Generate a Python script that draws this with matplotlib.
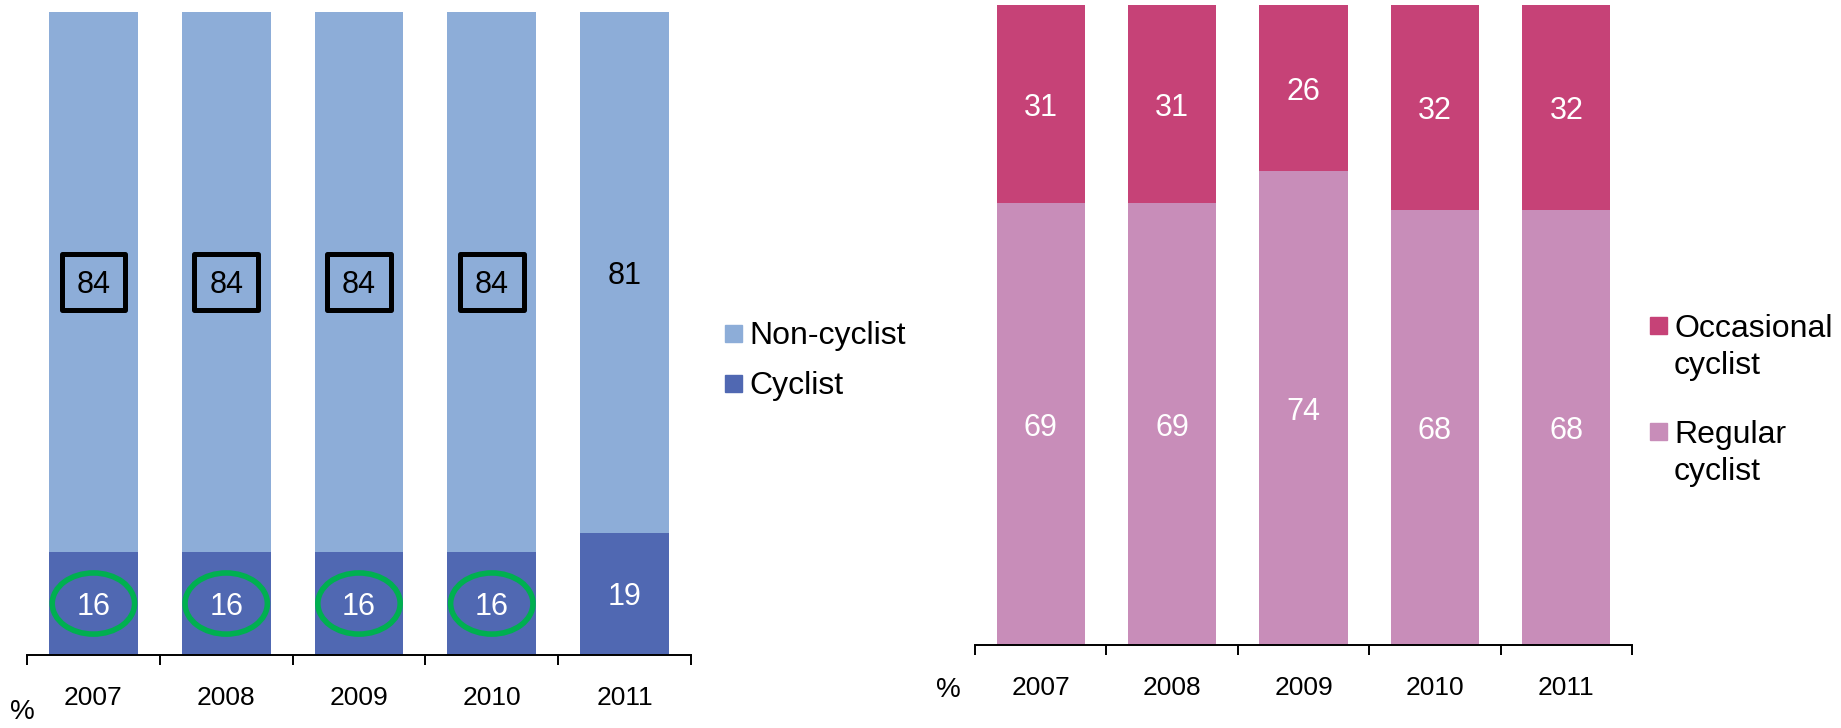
import matplotlib
matplotlib.use("Agg")
import matplotlib.pyplot as plt
from matplotlib.patches import Ellipse, Rectangle
import numpy as np

plt.rcParams['font.family'] = ['Liberation Sans', 'DejaVu Sans']

years = ['2007', '2008', '2009', '2010', '2011']
cyclist = [16, 16, 16, 16, 19]
non_cyclist = [84, 84, 84, 84, 81]
highlighted = [True, True, True, True, False]
regular = [69, 69, 74, 68, 68]
occasional = [31, 31, 26, 32, 32]

C_NON = '#8DADD8'
C_CYC = '#5068B2'
C_OCC = '#C64277'
C_REG = '#C88DB9'
C_GREEN = '#00B050'

W, H = 1841, 728
fig = plt.figure(figsize=(W / 100, H / 100), dpi=100)


def px_axes(x0, x1, ytop, ybot):
    return fig.add_axes([x0 / W, (H - ybot) / H, (x1 - x0) / W, (ybot - ytop) / H])


def style_axes(ax):
    for s in ['top', 'left', 'right']:
        ax.spines[s].set_visible(False)
    ax.spines['bottom'].set_linewidth(1.4)
    ax.set_xlim(-0.5, len(years) - 0.5)
    ax.set_ylim(0, 100)
    ax.set_yticks([])
    x = np.arange(len(years))
    ax.set_xticks(x)
    ax.set_xticklabels(years, fontsize=19)
    ax.tick_params(axis='x', which='major', length=0, pad=22)
    ax.set_xticks(np.arange(-0.5, len(years)), minor=True)
    ax.tick_params(axis='x', which='minor', length=7, width=1.4, direction='out')


BAR_W = 0.67
x = np.arange(len(years))

# Left chart
ax1 = px_axes(27, 691, 11.6, 655)
b_cyc = ax1.bar(x, cyclist, width=BAR_W, color=C_CYC, label='Cyclist')
b_non = ax1.bar(x, non_cyclist, width=BAR_W, bottom=cyclist, color=C_NON, label='Non-cyclist')
style_axes(ax1)
for i in range(len(years)):
    yc = cyclist[i] / 2
    yn = cyclist[i] + non_cyclist[i] / 2
    ax1.text(x[i], yc, str(cyclist[i]), ha='center', va='center_baseline', color='white', fontsize=22)
    ax1.text(x[i], yn, str(non_cyclist[i]), ha='center', va='center_baseline', color='black', fontsize=22)
    if highlighted[i]:
        ax1.add_patch(Ellipse((x[i], yc), 0.62, 9.5, fill=False, ec=C_GREEN, lw=4.0, zorder=5))
        ax1.add_patch(Rectangle((x[i] - 0.24, yn - 4.4), 0.48, 8.8, fill=False, ec='black',
                                lw=3.6, joinstyle='round', zorder=5))
fig.text(22 / W, 1 - 709 / H, '%', ha='center', va='center_baseline', fontsize=20)

# Right chart
ax2 = px_axes(975, 1632, 5, 645)
b_reg = ax2.bar(x, regular, width=BAR_W, color=C_REG, label='Regular\ncyclist')
b_occ = ax2.bar(x, occasional, width=BAR_W, bottom=regular, color=C_OCC, label='Occasional\ncyclist')
style_axes(ax2)
for i in range(len(years)):
    ax2.text(x[i], regular[i] / 2, str(regular[i]), ha='center', va='center_baseline', color='white', fontsize=22)
    ax2.text(x[i], regular[i] + occasional[i] / 2, str(occasional[i]), ha='center', va='center_baseline',
             color='white', fontsize=22)
fig.text(948 / W, 1 - 687 / H, '%', ha='center', va='center_baseline', fontsize=20)


# Legends (manual, to keep square aligned with first line)
def legend_item(xsq, ycenter, color, label, linespacing=1.3):
    sq = 17
    fig.add_artist(Rectangle((xsq / W, 1 - (ycenter + sq / 2) / H), sq / W, sq / H,
                             transform=fig.transFigure, color=color))
    top = ycenter - 12
    fig.text((xsq + sq + 7) / W, 1 - top / H, label, ha='left', va='top',
             fontsize=23, linespacing=linespacing)


legend_item(725, 333, C_NON, b_non.get_label())
legend_item(725, 383, C_CYC, b_cyc.get_label())
legend_item(1650, 326, C_OCC, b_occ.get_label())
legend_item(1650, 432, C_REG, b_reg.get_label())

fig.savefig('out.png', dpi=100)
